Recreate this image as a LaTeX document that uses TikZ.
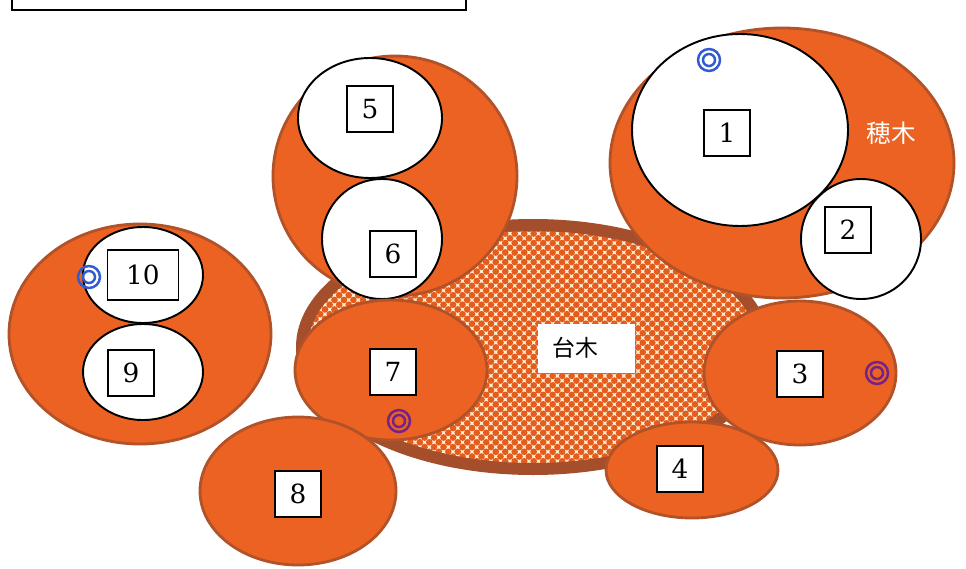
\documentclass[tikz,border=0pt]{standalone}
\usepackage{fontspec}
\newfontfamily\jpfont{Noto Sans CJK JP}
\newfontfamily\numfont{DejaVu Serif}
\usetikzlibrary{patterns}
\definecolor{scionorange}{RGB}{236,98,34}
\definecolor{scionedge}{RGB}{178,82,40}
\definecolor{stockedge}{RGB}{165,78,44}
\definecolor{stockpale}{RGB}{255,240,210}
\definecolor{stockdot}{RGB}{228,92,30}
\definecolor{ringblue}{RGB}{50,90,210}
\definecolor{ringpurple}{RGB}{115,35,135}
\pgfdeclarepatternformonly{stockdots}{\pgfpoint{-0.8pt}{-0.8pt}}{\pgfpoint{6.2pt}{6.2pt}}{\pgfpoint{5.4pt}{5.4pt}}{%
  \pgfpathcircle{\pgfpoint{1.35pt}{1.35pt}}{1.9pt}%
  \pgfpathcircle{\pgfpoint{4.05pt}{4.05pt}}{1.9pt}%
  \pgfusepath{fill}}

\begin{document}
\begin{tikzpicture}[
    x=0.02cm, y=-0.02cm,
    scion/.style={fill=scionorange, draw=scionedge, line width=1.6pt},
    hole/.style={fill=white, draw=black, line width=1.1pt},
    numbox/.style={rectangle, draw, fill=white, line width=0.8pt, minimum width=0.92cm, minimum height=0.92cm, inner sep=1pt, font=\numfont\fontsize{15}{18}\selectfont},
    ring/.style={circle, draw=#1, line width=1.4pt, minimum size=0.44cm, inner sep=0pt,
        path picture={\draw[#1, line width=1.4pt] (path picture bounding box.center) circle (0.12cm);}}
]
\useasboundingbox (0,0) rectangle (966,568);
\clip (0,0) rectangle (966,568);

\draw[line width=1.1pt] (12,-20) rectangle (466,10);

\fill[stockpale] (533,347) circle [x radius=231, y radius=122];
\path[pattern=stockdots, pattern color=stockdot, draw=stockedge, line width=0.24cm] (533,347) circle [x radius=231, y radius=122];

\draw[scion] (140,334) circle [x radius=131, y radius=110];
\draw[hole] (143,275) circle [x radius=60, y radius=48];
\draw[hole] (143,372) circle [x radius=60, y radius=48];

\draw[scion] (395,176) circle [x radius=122, y radius=120];
\draw[hole] (370,118) circle [x radius=72, y radius=60];
\draw[hole] (382,239) circle [x radius=60, y radius=60];

\draw[scion] (782,163) circle [x radius=172, y radius=135];
\draw[hole] (740,130) circle [x radius=108, y radius=96];
\draw[hole] (861,239) circle [x radius=60, y radius=60];

\draw[scion] (391,370) circle [x radius=96, y radius=70];
\draw[scion] (298,491) circle [x radius=98, y radius=74];
\draw[scion] (800,373) circle [x radius=96, y radius=72];
\draw[scion] (692,470) circle [x radius=86, y radius=48];

\node[numbox] (n1) at (727,133) {1};
\node[numbox] (n2) at (848,230) {2};
\node[numbox] (n3) at (800,374) {3};
\node[numbox] (n4) at (680,469) {4};
\node[numbox] (n5) at (370,109) {5};
\node[numbox] (n6) at (393,254) {6};
\node[numbox] (n7) at (393,372) {7};
\node[numbox] (n8) at (298,494) {8};
\node[numbox] (n9) at (131,373) {9};
\node[numbox, minimum width=1.42cm, minimum height=1cm] (n10) at (143,275) {10};

\node[ring=ringblue] (r1) at (709,60) {};
\node[ring=ringblue] (r10) at (89,277) {};
\node[ring=ringpurple] (r3) at (877,373) {};
\node[ring=ringpurple] (r7) at (399,421) {};

\node[text=white, font=\jpfont\fontsize{14}{16}\selectfont] (scion) at (891,133) {穂木};
\node[fill=white, inner xsep=0.3cm, text width=1.34cm, align=left, minimum height=0.98cm, font=\jpfont\fontsize{13}{15}\selectfont] (stock) at (586,348) {台木};
\end{tikzpicture}
\end{document}
